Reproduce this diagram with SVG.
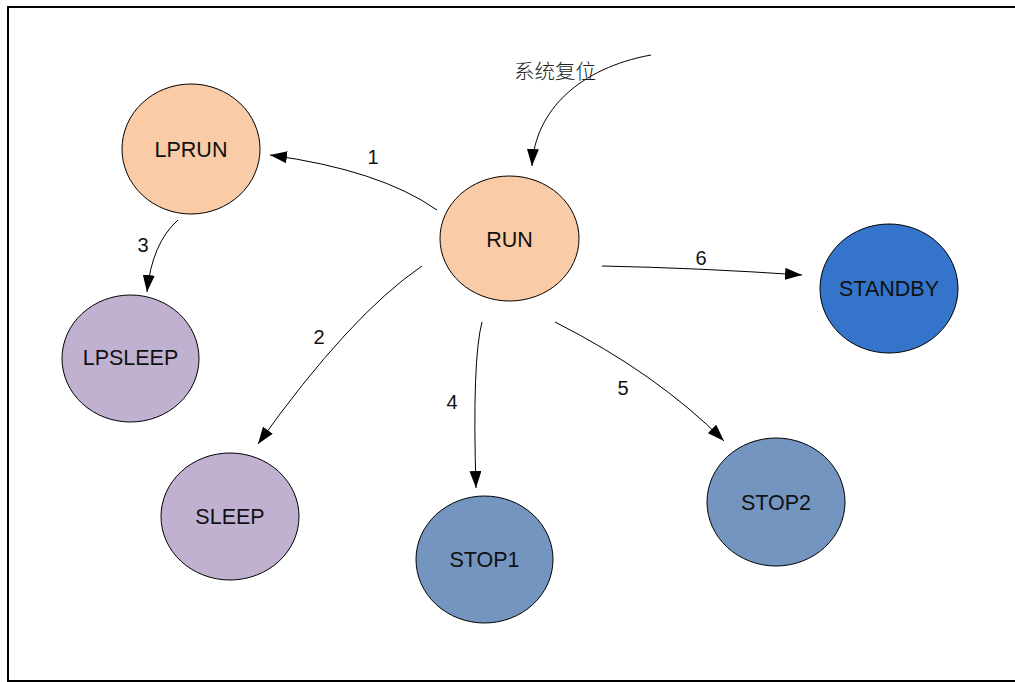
<svg xmlns="http://www.w3.org/2000/svg" width="1015" height="682" viewBox="0 0 1015 682">
<defs>
<marker id="ah" markerUnits="userSpaceOnUse" markerWidth="18" markerHeight="12" refX="17" refY="6" orient="auto">
<path d="M0,0 L17,6 L0,12 Z" fill="#000"/>
</marker>
<style>
.n{stroke:#000;stroke-width:1}
.peach{fill:#F9CBA7}
.purple{fill:#C0B1D1}
.steel{fill:#7395C0}
.blue{fill:#3475CB}
.t{font-family:"Liberation Sans",Arial,sans-serif;font-size:21.5px;fill:#111;text-anchor:middle}
.lbl{font-family:"Liberation Sans",Arial,sans-serif;font-size:20px;fill:#111;text-anchor:middle}
.c{fill:none;stroke:#000;stroke-width:1;marker-end:url(#ah)}
</style>
</defs>
<rect width="1015" height="682" fill="#fff"/>
<path d="M1016,7 H8 V681 H1016" fill="none" stroke="#000" stroke-width="2"/>
<g id="connectors">
<path class="c" d="M651,55 C580,68 535,110 532,166"/>
<path class="c" d="M437,210 Q380,170 270,155"/>
<path class="c" d="M178,220 Q152,243 147,292"/>
<path class="c" d="M422,266 Q350,315 258,444"/>
<path class="c" d="M482,322 Q472,360 476,488"/>
<path class="c" d="M555,322 Q656,373 724,441"/>
<path class="c" d="M602,266 Q700,268 802,275"/>
<text class="lbl" x="373" y="164">1</text>
<text class="lbl" x="319" y="344">2</text>
<text class="lbl" x="143" y="252">3</text>
<text class="lbl" x="452" y="409">4</text>
<text class="lbl" x="623" y="395">5</text>
<text class="lbl" x="701" y="265">6</text>
<text x="555" y="79" font-family="'Noto Sans CJK SC',sans-serif" font-size="20.5" font-weight="300" fill="#222" text-anchor="middle">系统复位</text>
</g>
<g id="LPRUN"><ellipse class="n peach" cx="191" cy="149" rx="69" ry="65"/><text class="t" x="191" y="156.5">LPRUN</text></g>
<g id="RUN"><ellipse class="n peach" cx="509.5" cy="238.5" rx="69.5" ry="62.5"/><text class="t" x="509.5" y="247">RUN</text></g>
<g id="STANDBY"><ellipse class="n blue" cx="889" cy="288.5" rx="69" ry="64.5"/><text class="t" x="889" y="295.5">STANDBY</text></g>
<g id="LPSLEEP"><ellipse class="n purple" cx="130.5" cy="358.5" rx="68.5" ry="63.5"/><text class="t" x="130.5" y="365">LPSLEEP</text></g>
<g id="SLEEP"><ellipse class="n purple" cx="230" cy="516.5" rx="69" ry="63.5"/><text class="t" x="230" y="524">SLEEP</text></g>
<g id="STOP1"><ellipse class="n steel" cx="484.5" cy="559.5" rx="68.5" ry="63.5"/><text class="t" x="484.5" y="567">STOP1</text></g>
<g id="STOP2"><ellipse class="n steel" cx="776" cy="502" rx="69" ry="64"/><text class="t" x="776" y="509.5">STOP2</text></g>
</svg>
